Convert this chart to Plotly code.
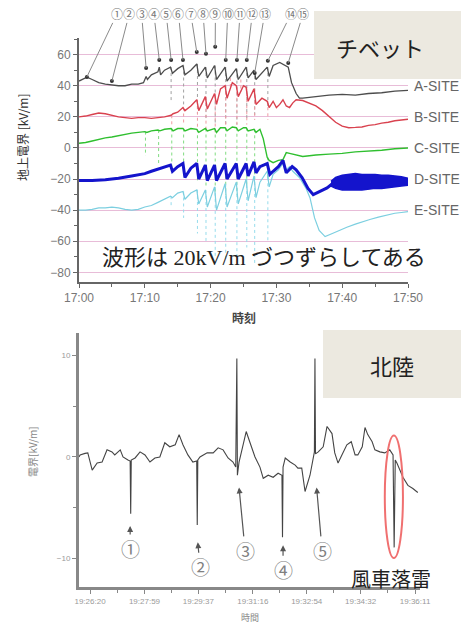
import plotly.graph_objects as go

# ---------------- Top chart (Tibet): minutes after 17:00, kV/m (offset by 20 kV/m per site) ----------------
a_t = [0,0.5,1.2,2,3,4,5,6,7,8, 9,9.8,10.2,10.4,11,12,12.2,12.4,13,13.9, 14.2,15,15.8,16.1,17,17.9,18.2,19.2,19.5,20.6,
       20.9,22.2,22.5,23.9,24.2,25.4,25.7,26.6,26.9,28.6, 28.9,29.5,30.5,31,31.5,31.8,32.3,33,33.5,34, 35,36,38,40,42,44,46,48,50]
a_v = [43,44,45.5,44,42,41,40.5,40,40,41, 41,42,46,44,47,49,52,47,50,52, 48,51,53,47,50,54,46,52,45,53,
       44,52,43,51,44,52,45,50,44,52, 46,53,55,54,53,52,42,35,32,32, 32.5,33,34,34.5,34,35,35.5,36.5,37]
a_spk_t = [14.0,15.9,18.0,19.3,20.7,22.3,24.0,25.5,26.7,28.7]
a_spk_top = [52,53,54,52,53,52,51,52,50,52]
a_spk_bot = [30,28,22,18,15,14,15,18,20,26]

b_t = [0,1,2,3,4,5,6,7,8,9, 10,11,12,13,14,14.3,15,15.8,16.1,17, 17.9,18.2,19.2,19.5,20.6,20.9,21.5,22.2,22.5,23.3,
       23.9,24.2,25.0,25.4,25.7,26.6,26.9,27.8,28.6,28.9, 29.5,30,30.5,31,31.5,32,32.5,33,34,35, 36,37,38,39,40,41,42,43,44,45,
       46,47,48,49,50]
b_v = [20,20.5,21.5,22.5,22,21,20,19.5,19,19.5, 19.5,19,19.5,20,21,22,23,26,24,27, 31,24,33,25,35,28,38,40,32,42,
       40,33,40,39,30,38,28,32,30,26, 30,26,28,31,27,26,29,31,30.5,29, 27,24,20,16.5,14,13,13.2,13.5,14.5,15,
       16,16.5,17.5,18,18.5]
b_spk_t = [14.1,15.9,18.0,19.3,20.7,22.3,23.0,24.0,24.6,25.5,26.7,28.7]
b_spk_top = [21,26,31,33,35,40,45,40,44,39,38,30]
b_spk_bot = [15,16,12,10,10,12,38,14,36,15,18,18]

c_t = [0,1,2,3,4,5,6,7,8,9, 10,10.3,11,12,12.3,13,14,14.3,15,15.8, 16.1,17,17.9,18.2,19.2,19.5,20.6,20.9,21.5,22.2,
       22.5,23.3,23.9,24.2,25.0,25.4,25.7,26.6,26.9,27.5, 28,28.6,28.9,29.5,30.3,31,31.5,32,33,34, 35,36,38,40,42,44,46,48,50]
c_v = [3,3.5,4.5,5.5,6.5,7,8,8.5,9.5,10, 10.5,10,11,11.5,11,12,12.5,11,12.5,12.5, 11,12.5,12,10,12.5,11,12.5,10,13,13,
       11,13.5,13,11,13,13,11,12,10,12, 6,-6,-8,-9.5,-8,-7.5,-3,-3.5,-4.5,-5.5, -5,-4.5,-4,-3.5,-2.5,-2,-1.5,-0.5,0]
c_spk_t = [10.1,12.1,14.1,15.9,18.0,19.3,20.7,22.3,24.0,25.5,26.7,28.7]
c_spk_top = [10.5,11.5,12.5,12.5,12,12.5,12.5,13,13,13,12,-6]
c_spk_bot = [-5,-10,-15,-18,-22,-25,-30,-30,-30,-25,-20,-20]

d_t = [0,2,4,6,8,10,11,12,13,13.9, 14.2,15,15.8,16.1,17,17.9,18.2,19.2,19.5,20.6, 20.9,22.2,22.5,23.9,24.2,25.4,25.7,26.6,26.9,27.5,
       28.6,29,29.5,30.3,31,31.5,32.4,33,33.9,34.8, 35.6,36.5,37.7,38.5]
d_v = [-21,-21,-20.5,-19.5,-18,-16.5,-15,-13.5,-12.5,-11, -15,-12,-10,-19,-13,-10,-20,-11,-21,-11, -21,-10,-20,-10,-20,-10,-18,-9,-16,-12,
       -10,-17,-15,-12,-8,-16,-12,-14,-19,-26, -30,-28,-25.7,-23]
# envelope of the dense oscillation of D-SITE after 17:38
d_band_t = [38.3, 39, 40, 41, 42, 43, 44, 45, 46, 47, 48, 49, 50]
d_band_hi = [-21.5, -19, -17.5, -17, -16.5, -17, -17, -17, -17.5, -17.5, -18, -18.5, -19.5]
d_band_lo = [-24.5, -26, -27, -27, -27, -27, -26.5, -26, -26, -25.5, -25, -24.5, -24]

e_t = [0,1,2,3,4,5,6,7,8,9, 10,11,12,13,13.9,14.2,15,15.8,16.1,17, 17.9,18.2,19.2,19.5,20.6,20.9,22.2,22.5,23.9,24.2,
       25.4,25.7,26.6,26.9,27.5,28.6,28.9,29.5,30.3,31, 31.5,32,32.5,33.5,34.5,35.1,35.8,36.5,37.4,38.5,
       39.5,40.7,42,43,44.2,45.5,46.8,48,49,50]
e_v = [-40,-40,-39.5,-38.5,-38.5,-38,-38.5,-39.5,-40,-39.5, -38,-37,-35,-33,-31,-32,-29,-28,-33,-29, -27,-36,-27,-38,-25,-40,-23,-38,-22,-36,
       -20,-34,-18,-32,-22,-15,-25,-17,-14,-10, -14,-12,-15,-19,-26,-32,-45,-53,-57,-55,
       -53,-51,-49,-47.5,-46,-44.5,-43,-42,-41.5,-41]
e_spk_t = [14.0,15.9,18.0,19.3,20.7,22.3,24.0,25.5,26.7,28.7]
e_spk_top = [-31,-28,-27,-27,-25,-23,-22,-20,-18,-15]
e_spk_bot = [-38,-45,-55,-60,-70,-72,-70,-64,-75,-60]

site_names = ["A-SITE", "B-SITE", "C-SITE", "D-SITE", "E-SITE"]
site_levels = [40, 20, 0, -20, -40]

top_xticks = [0, 10, 20, 30, 40, 50]
top_xlabels = ["17:00", "17:10", "17:20", "17:30", "17:40", "17:50"]

flash_labels = ["①","②","③","④","⑤","⑥","⑦","⑧","⑨","⑩","⑪","⑫","⑬","⑭","⑮"]
flash_dot_t = [1.2, 5.0, 10.2, 12.2, 14.0, 15.8, 17.9, 19.3, 20.7, 22.3, 24.0, 25.5, 26.7, 28.7, 31.8]
flash_dot_v = [45.7, 43.1, 51.4, 56.6, 56.6, 56.6, 61.7, 60.5, 65, 56.6, 56.6, 56.6, 48.2, 56, 54.7]
flash_lab_t = [5.78, 7.64, 9.51, 11.38, 13.25, 15.12, 16.99, 18.86, 20.73, 22.60, 24.47, 26.34, 28.21, 32.22, 34.04]
flash_lab_v = 86.2

# ---------------- Bottom chart (Hokuriku): seconds after 19:26:00, kV/m ----------------
hk_t = [0,2,11,16,24,33,42,51,60,65, 75,80,89,93,94,95,102,111,120,129, 138,147,156,165,175,182,189,198,207,214,
        215,216,220,233,244,253,262,271,280,285, 287,288,291,296,304,311,320,329,335,344,
        353,362,369,370,371,375,384,393,398,405, 411,420,425,428,429,430,435,444,451,460,
        465,471,478,487,495,502,507,515,520,525, 533,538,547,556,565,571,573,575,578,584, 589,598,607,616]
hk_v = [0.0,0.2,0.35,0.4,-1.3,-0.6,-0.5,0.7,0.5,0.2, 0.7,0.0,-0.3,-0.4,-5.6,-0.3,-0.1,0.5,0.2,-0.5,
        -0.1,0.0,1.4,1.0,1.2,2.2,1.2,0.2,-0.5,-0.4, -6.7,-0.3,0.0,0.4,0.4,0.9,0.7,-0.1,-0.5,-1.0,
        9.7,-1.8,-0.5,0.7,2.5,1.4,0.0,-1.0,-2.1,-1.8, -2.0,-1.6,-1.8,-7.9,-1.0,-0.1,-0.5,-0.8,-1.1,-1.1,
        -3.4,-1.8,-0.3,0.5,9.7,0.3,0.5,1.0,3.0,2.3, 0.4,-0.6,0.2,1.2,1.5,0.2,0.2,1.0,2.9,2.2,
        1.5,0.7,0.5,0.4,0.7,0.2,-8.9,-0.3,-0.6,-1.3, -2.0,-2.8,-3.1,-3.5]
hk_xticks = [20, 119, 217, 316, 414, 512, 611]
hk_xlabels = ["19:26:20", "19:27:59", "19:29:37", "19:31:16", "19:32:54", "19:34:32", "19:36:11"]
hk_xminor = [69.5, 168, 266.5, 365, 463, 561.5]
hk_marks = ["①", "②", "③", "④", "⑤"]
hk_tip_t = [93, 216, 291, 371, 432]
hk_tip_v = [-6.8, -8.4, -3.0, -8.7, -3.0]
hk_lab_t = [93, 220, 302, 371, 442]
hk_lab_v = [-9.0, -10.8, -9.2, -11.1, -9.2]
windmill_t = [556, 589]
windmill_v = [-9.95, 2.1]

W, H = 461, 624
fig = go.Figure()


def spikes(ts, tops, bots):
    xs, ys = [], []
    for t, a, b in zip(ts, tops, bots):
        xs += [t, t, None]
        ys += [a, b, None]
    return xs, ys


spk_sets = [(a_spk_t, a_spk_top, a_spk_bot, "#a0a0a0"),
            (b_spk_t, b_spk_top, b_spk_bot, "#ef9aa2"),
            (c_spk_t, c_spk_top, c_spk_bot, "#80dc80"),
            (e_spk_t, e_spk_top, e_spk_bot, "#96dcec")]
for ts, tops, bots, col in spk_sets:
    xs, ys = spikes(ts, tops, bots)
    fig.add_trace(go.Scatter(x=xs, y=ys, mode="lines", line=dict(color=col, width=1, dash="dot"),
                             xaxis="x", yaxis="y", hoverinfo="skip"))

fig.add_trace(go.Scatter(x=e_t, y=e_v, mode="lines", line=dict(color="#7ccfe0", width=1.2), xaxis="x", yaxis="y"))
fig.add_trace(go.Scatter(x=c_t, y=c_v, mode="lines", line=dict(color="#2fbf2f", width=1.4), xaxis="x", yaxis="y"))
fig.add_trace(go.Scatter(x=b_t, y=b_v, mode="lines", line=dict(color="#d9424f", width=1.4), xaxis="x", yaxis="y"))
fig.add_trace(go.Scatter(x=a_t, y=a_v, mode="lines", line=dict(color="#4d4d4d", width=1.3), xaxis="x", yaxis="y"))
fig.add_trace(go.Scatter(x=d_t, y=d_v, mode="lines", line=dict(color="#1414cc", width=3), xaxis="x", yaxis="y"))
fig.add_trace(go.Scatter(x=d_band_t + d_band_t[::-1], y=d_band_hi + d_band_lo[::-1], mode="lines",
                         fill="toself", fillcolor="#1414cc", line=dict(color="#1414cc", width=1.5),
                         xaxis="x", yaxis="y"))
fig.add_trace(go.Scatter(x=flash_dot_t, y=flash_dot_v, mode="markers",
                         marker=dict(color="#333333", size=4), xaxis="x", yaxis="y"))

fig.add_trace(go.Scatter(x=hk_t, y=hk_v, mode="lines", line=dict(color="#444444", width=1.1),
                         xaxis="x2", yaxis="y2"))

tickfont_top = dict(family="Liberation Sans", size=12, color="#777777")
tickfont_bot = dict(family="Liberation Sans", size=8, color="#9a9a9a")

fig.update_layout(
    template="none",
    width=W, height=H, margin=dict(l=0, r=0, t=0, b=0, pad=0), autosize=False,
    paper_bgcolor="white", plot_bgcolor="white", showlegend=False,
    xaxis=dict(domain=[79 / W, 408 / W], anchor="y", range=[0, 50], automargin=False,
               tickvals=top_xticks, ticktext=top_xlabels, ticks="outside", ticklen=4,
               tickcolor="#666666", showline=True, linecolor="#666666", linewidth=2,
               showgrid=False, zeroline=False, tickfont=tickfont_top,
               minor=dict(dtick=10, tick0=5, ticks="outside", ticklen=3, tickcolor="#666666", showgrid=False)),
    yaxis=dict(domain=[1 - 282 / H, 1 - 38 / H], anchor="x", range=[-86.2, 70.7], automargin=False,
               tick0=0, dtick=20, ticks="outside", ticklen=4, tickcolor="#666666",
               showline=True, linecolor="#666666", linewidth=2, showgrid=True,
               gridcolor="#e8bcd8", gridwidth=1, zeroline=False, tickfont=tickfont_top,
               minor=dict(dtick=20, tick0=10, ticks="outside", ticklen=3, tickcolor="#666666", showgrid=False)),
    xaxis2=dict(domain=[79 / W, 420 / W], anchor="y2", range=[0, 620], automargin=False,
                tickvals=hk_xticks, ticktext=hk_xlabels, ticks="outside", ticklen=4,
                tickcolor="#888888", showline=True, linecolor="#888888", linewidth=3,
                showgrid=False, zeroline=False, tickfont=tickfont_bot,
                minor=dict(tickvals=hk_xminor, ticks="outside", ticklen=3, tickcolor="#888888", showgrid=False)),
    yaxis2=dict(domain=[1 - 587 / H, 1 - 333 / H], anchor="x2", range=[-12.8, 12.2], automargin=False,
                tickvals=[-10, 0, 10], ticks="outside", ticklen=4, tickcolor="#888888",
                showline=True, linecolor="#888888", linewidth=3, showgrid=False, zeroline=False,
                tickfont=tickfont_bot,
                minor=dict(tickvals=[-5, 5], ticks="outside", ticklen=3, tickcolor="#888888", showgrid=False)),
)

shapes = [
    dict(type="rect", xref="paper", yref="paper", x0=314 / W, x1=1, y0=1 - 79 / H, y1=1 - 11 / H,
         fillcolor="#ECE9E0", line=dict(width=0), layer="above"),
    dict(type="rect", xref="paper", yref="paper", x0=323 / W, x1=1, y0=1 - 398 / H, y1=1 - 330 / H,
         fillcolor="#ECE9E0", line=dict(width=0), layer="above"),
    dict(type="circle", xref="x2", yref="y2", x0=windmill_t[0], x1=windmill_t[1],
         y0=windmill_v[0], y1=windmill_v[1], line=dict(color="#f07070", width=2)),
]
fig.update_layout(shapes=shapes)

jp = "Noto Sans CJK JP"
C = dict(xanchor="center", yanchor="middle", showarrow=False, xref="paper", yref="paper")
ann = []
for name, lvl in zip(site_names, site_levels):
    ann.append(dict(text=name, xref="paper", yref="y", x=412 / W, y=lvl, xanchor="left", yanchor="middle",
                    showarrow=False, font=dict(family="Liberation Sans", size=14, color="#666666")))
for lab, dt, dv, lt in zip(flash_labels, flash_dot_t, flash_dot_v, flash_lab_t):
    ann.append(dict(text=lab, xref="x", yref="y", x=dt, y=dv, axref="x", ayref="y", ax=lt, ay=flash_lab_v,
                    showarrow=True, arrowhead=0, arrowwidth=1, arrowcolor="#8a8a8a", standoff=0,
                    borderpad=0, font=dict(family=jp, size=12, color="#777777")))
for lab, tt, tv, lt, lv in zip(hk_marks, hk_tip_t, hk_tip_v, hk_lab_t, hk_lab_v):
    ann.append(dict(text=lab, xref="x2", yref="y2", x=tt, y=tv, axref="x2", ayref="y2", ax=lt, ay=lv,
                    showarrow=True, arrowhead=2, arrowsize=1, arrowwidth=1.2, arrowcolor="#555555",
                    borderpad=0, font=dict(family=jp, size=19, color="#808080")))

ann += [
    dict(C, text="チベット", x=380 / W, y=1 - 47 / H, font=dict(family=jp, size=22, color="#222222")),
    dict(C, text="北陸", x=392 / W, y=1 - 365 / H, font=dict(family=jp, size=22, color="#222222")),
    dict(C, text="波形は 20kV/m づつずらしてある", x=264 / W, y=1 - 257 / H,
         font=dict(family="Liberation Serif, " + jp, size=22, color="#222222")),
    dict(C, text="風車落雷", x=391 / W, y=1 - 578 / H, font=dict(family=jp, size=20, color="#222222")),
    dict(C, text="地上電界 [kV/m]", x=22 / W, y=1 - 137 / H, textangle=-90,
         font=dict(family=jp, size=12, color="#333333")),
    dict(C, text="<b>時刻</b>", x=244 / W, y=1 - 317 / H, font=dict(family=jp, size=12, color="#444444")),
    dict(C, text="電界[kV/m]", x=32 / W, y=1 - 452 / H, textangle=-90,
         font=dict(family=jp, size=10, color="#888888")),
    dict(C, text="時間", x=250 / W, y=1 - 617.5 / H, font=dict(family=jp, size=9, color="#888888")),
]
fig.update_layout(annotations=ann)

fig.write_html("out.html")
